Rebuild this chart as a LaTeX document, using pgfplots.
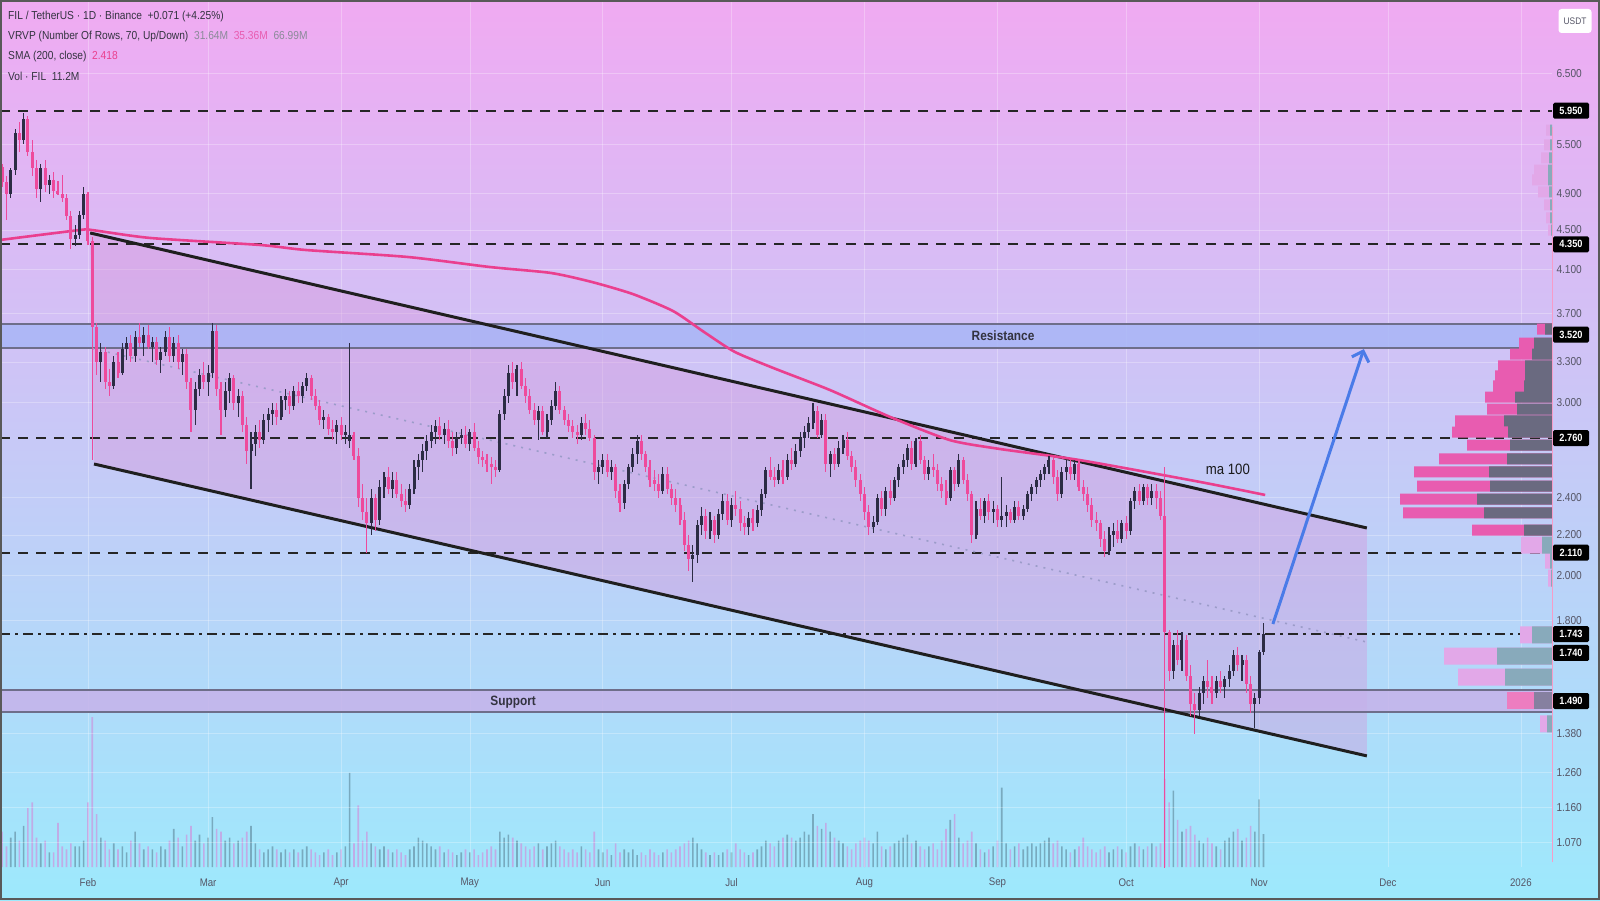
\documentclass[border=0pt]{standalone}
\usepackage{pgfplots}
\pgfplotsset{compat=1.18}
\usepackage{pgfplotstable}
\usepackage{fontspec}
\setmainfont{Liberation Sans}[FakeStretch=0.88]
\usetikzlibrary{arrows.meta}
\definecolor{bgtop}{HTML}{F0AAF2}
\definecolor{bgmid}{HTML}{CBC6F6}
\definecolor{bgbot}{HTML}{9DE9FC}
\definecolor{cdown}{HTML}{EE4A9C}
\definecolor{cup}{HTML}{2C2C44}
\definecolor{smac}{HTML}{EA3F8E}
\definecolor{volup}{HTML}{6E9CB0}
\definecolor{voldn}{HTML}{C4A6E4}
\definecolor{lbl}{HTML}{555566}
\definecolor{hdr}{HTML}{333340}
\definecolor{hgray}{HTML}{8A8A99}
\definecolor{prpink}{HTML}{E85CB0}
\definecolor{prgray}{HTML}{6A6A80}
\definecolor{prlpink}{HTML}{E2A8E8}
\definecolor{prlteal}{HTML}{88AABB}
\definecolor{resfill}{HTML}{A8B6F6}
\definecolor{supfill}{HTML}{C6B2EA}
\definecolor{bandline}{HTML}{6E6E8A}
\definecolor{chfill}{HTML}{D890D8}
\definecolor{arrowc}{HTML}{4A7BE8}

\pgfplotstableread{
d o h l c v
11 5.21 5.25 4.98 5.03 12
12 5.03 5.10 4.61 4.90 7
13 4.90 5.20 4.85 5.18 10
14 5.18 5.70 5.12 5.65 12
15 5.65 5.80 5.40 5.55 9
16 5.55 5.92 5.50 5.83 14
17 5.83 5.88 5.35 5.40 20
18 5.40 5.55 5.10 5.20 22
19 5.20 5.30 4.85 4.95 10
20 4.95 5.25 4.80 5.20 8
21 5.20 5.30 4.92 5.00 9
22 5.00 5.12 4.90 5.06 5
23 5.06 5.15 4.85 4.93 5
24 4.93 5.05 4.88 4.90 15
25 4.90 5.12 4.80 4.85 7
26 4.85 4.90 4.60 4.65 6
27 4.65 4.70 4.30 4.40 8
28 4.40 4.55 4.33 4.45 7
29 4.45 4.70 4.40 4.66 7
30 4.66 4.97 4.62 4.90 9
31 4.90 4.92 4.34 4.38 22
32 4.38 4.42 2.62 3.58 51
33 3.58 3.62 3.20 3.30 18
34 3.30 3.45 3.15 3.38 10
35 3.38 3.42 3.10 3.15 9
36 3.15 3.25 3.05 3.12 6
37 3.12 3.35 3.10 3.30 8
38 3.30 3.38 3.18 3.22 6
39 3.22 3.45 3.20 3.40 7
40 3.40 3.50 3.32 3.45 5
41 3.45 3.52 3.30 3.35 9
42 3.35 3.55 3.30 3.50 12
43 3.50 3.62 3.42 3.45 8
44 3.45 3.58 3.35 3.52 6
45 3.52 3.60 3.40 3.42 7
46 3.42 3.50 3.30 3.46 6
47 3.46 3.50 3.28 3.32 5
48 3.32 3.42 3.22 3.38 7
49 3.38 3.55 3.35 3.50 6
50 3.50 3.58 3.30 3.35 9
51 3.35 3.50 3.30 3.45 13
52 3.45 3.52 3.25 3.30 10
53 3.30 3.40 3.20 3.36 7
54 3.36 3.40 3.10 3.15 11
55 3.15 3.18 2.80 2.95 14
56 2.95 3.15 2.85 3.10 9
57 3.10 3.25 3.05 3.20 11
58 3.20 3.30 3.10 3.15 8
59 3.15 3.28 3.05 3.22 10
60 3.22 3.62 3.18 3.55 17
61 3.55 3.60 3.05 3.10 13
62 3.10 3.15 2.78 2.95 12
63 2.95 3.15 2.90 3.08 9
64 3.08 3.22 3.00 3.18 10
65 3.18 3.20 2.95 3.00 8
66 3.00 3.10 2.90 3.05 9
67 3.05 3.08 2.80 2.85 10
68 2.85 2.90 2.60 2.68 12
69 2.68 2.80 2.45 2.72 14
70 2.72 2.85 2.65 2.80 8
71 2.80 2.88 2.70 2.75 6
72 2.75 2.92 2.72 2.88 5
73 2.88 2.96 2.80 2.92 6
74 2.92 3.00 2.85 2.95 7
75 2.95 3.00 2.85 2.90 6
76 2.90 3.05 2.88 3.02 5
77 3.02 3.10 2.95 3.05 6
78 3.05 3.08 2.92 2.98 5
79 2.98 3.12 2.95 3.08 6
80 3.08 3.15 3.00 3.05 5
81 3.05 3.15 3.00 3.12 6
82 3.12 3.22 3.08 3.18 7
83 3.18 3.20 3.02 3.05 6
84 3.05 3.10 2.95 2.98 5
85 2.98 3.02 2.85 2.88 4
86 2.88 2.95 2.82 2.90 5
87 2.90 2.92 2.78 2.82 6
88 2.82 2.88 2.75 2.80 4
89 2.80 2.88 2.72 2.85 5
90 2.85 2.90 2.75 2.78 6
91 2.78 2.85 2.72 2.80 7
92 2.74 3.45 2.70 2.78 32
93 2.78 2.80 2.62 2.65 8
94 2.65 2.70 2.35 2.40 21
95 2.40 2.48 2.28 2.32 9
96 2.32 2.40 2.11 2.26 12
97 2.26 2.45 2.20 2.40 8
98 2.40 2.42 2.22 2.28 7
99 2.28 2.50 2.25 2.46 6
100 2.46 2.55 2.40 2.52 7
101 2.52 2.58 2.42 2.45 6
102 2.45 2.55 2.40 2.50 5
103 2.50 2.55 2.40 2.42 6
104 2.42 2.48 2.35 2.38 5
105 2.38 2.45 2.32 2.36 4
106 2.36 2.48 2.34 2.45 6
107 2.45 2.62 2.42 2.58 7
108 2.58 2.66 2.50 2.62 10
109 2.62 2.72 2.55 2.68 9
110 2.68 2.78 2.62 2.74 8
111 2.74 2.85 2.70 2.80 7
112 2.80 2.88 2.72 2.84 6
113 2.84 2.90 2.75 2.78 7
114 2.78 2.86 2.72 2.82 5
115 2.82 2.88 2.70 2.74 6
116 2.74 2.80 2.65 2.70 5
117 2.70 2.80 2.66 2.76 4
118 2.76 2.82 2.72 2.78 5
119 2.78 2.84 2.70 2.72 6
120 2.72 2.82 2.68 2.80 5
121 2.80 2.86 2.68 2.70 6
122 2.70 2.74 2.60 2.64 4
123 2.64 2.68 2.58 2.62 5
124 2.62 2.66 2.55 2.60 6
125 2.60 2.64 2.48 2.58 7
126 2.58 2.62 2.52 2.56 6
127 2.56 2.95 2.55 2.92 12
128 2.92 3.10 2.88 3.05 10
129 3.05 3.28 3.00 3.22 11
130 3.22 3.30 3.10 3.15 10
131 3.15 3.28 3.05 3.25 9
132 3.25 3.30 3.10 3.12 8
133 3.12 3.18 3.00 3.05 7
134 3.05 3.10 2.92 2.95 6
135 2.95 3.00 2.85 2.88 7
136 2.88 2.98 2.75 2.94 8
137 2.94 2.98 2.78 2.80 6
138 2.80 2.92 2.76 2.88 7
139 2.88 3.02 2.85 2.98 8
140 2.98 3.15 2.95 3.08 9
141 3.08 3.12 2.92 2.95 7
142 2.95 2.98 2.85 2.88 6
143 2.88 2.92 2.80 2.84 5
144 2.84 2.88 2.76 2.80 6
145 2.80 2.85 2.72 2.78 5
146 2.78 2.90 2.75 2.86 7
147 2.86 2.92 2.78 2.82 6
148 2.82 2.88 2.74 2.76 5
149 2.76 2.78 2.50 2.55 12
150 2.55 2.62 2.48 2.58 6
151 2.58 2.66 2.54 2.62 5
152 2.62 2.66 2.52 2.55 6
153 2.55 2.62 2.50 2.58 4
154 2.58 2.60 2.40 2.44 8
155 2.44 2.48 2.32 2.37 5
156 2.37 2.50 2.34 2.48 6
157 2.48 2.60 2.45 2.58 5
158 2.58 2.70 2.55 2.66 6
159 2.66 2.78 2.60 2.74 4
160 2.74 2.78 2.62 2.66 5
161 2.66 2.68 2.55 2.58 4
162 2.58 2.62 2.46 2.50 6
163 2.50 2.56 2.44 2.48 5
164 2.48 2.54 2.40 2.44 4
165 2.44 2.58 2.42 2.54 5
166 2.54 2.58 2.42 2.45 6
167 2.45 2.48 2.36 2.40 5
168 2.40 2.45 2.32 2.36 6
169 2.36 2.40 2.25 2.28 7
170 2.28 2.32 2.12 2.15 8
171 2.15 2.20 2.02 2.08 9
172 2.08 2.15 1.97 2.10 10
173 2.10 2.28 2.06 2.25 8
174 2.25 2.35 2.20 2.30 6
175 2.30 2.34 2.18 2.22 5
176 2.22 2.32 2.18 2.28 4
177 2.28 2.30 2.16 2.20 5
178 2.20 2.34 2.18 2.31 4
179 2.31 2.42 2.28 2.38 5
180 2.38 2.42 2.25 2.28 6
181 2.28 2.40 2.24 2.36 5
182 2.36 2.44 2.30 2.34 8
183 2.34 2.38 2.22 2.26 6
184 2.26 2.30 2.20 2.24 5
185 2.24 2.32 2.20 2.29 4
186 2.29 2.34 2.22 2.26 5
187 2.26 2.36 2.24 2.33 6
188 2.33 2.45 2.30 2.42 7
189 2.42 2.58 2.40 2.56 9
190 2.56 2.64 2.50 2.52 8
191 2.52 2.58 2.46 2.50 7
192 2.50 2.60 2.48 2.56 9
193 2.56 2.62 2.48 2.52 10
194 2.52 2.66 2.50 2.62 11
195 2.62 2.70 2.56 2.60 10
196 2.60 2.72 2.58 2.68 9
197 2.68 2.80 2.64 2.76 10
198 2.76 2.84 2.70 2.80 12
199 2.80 2.90 2.76 2.86 11
200 2.86 3.00 2.82 2.94 18
201 2.94 2.98 2.76 2.78 14
202 2.78 2.92 2.76 2.88 13
203 2.88 2.92 2.55 2.60 15
204 2.60 2.68 2.52 2.66 12
205 2.66 2.70 2.56 2.60 10
206 2.60 2.74 2.58 2.70 9
207 2.70 2.78 2.66 2.75 8
208 2.75 2.80 2.62 2.65 7
209 2.65 2.68 2.55 2.58 6
210 2.58 2.62 2.46 2.50 8
211 2.50 2.54 2.38 2.42 9
212 2.42 2.46 2.28 2.32 10
213 2.32 2.36 2.20 2.24 9
214 2.24 2.30 2.21 2.27 8
215 2.27 2.42 2.25 2.40 12
216 2.40 2.44 2.30 2.34 7
217 2.34 2.46 2.30 2.44 6
218 2.44 2.50 2.36 2.40 7
219 2.40 2.52 2.38 2.50 8
220 2.50 2.60 2.46 2.58 9
221 2.58 2.66 2.54 2.62 10
222 2.62 2.72 2.58 2.70 11
223 2.70 2.74 2.56 2.60 8
224 2.60 2.76 2.58 2.74 9
225 2.74 2.78 2.60 2.62 7
226 2.62 2.65 2.50 2.54 6
227 2.54 2.62 2.50 2.58 7
228 2.58 2.66 2.52 2.56 8
229 2.56 2.60 2.44 2.48 6
230 2.48 2.52 2.40 2.44 9
231 2.44 2.50 2.36 2.40 13
232 2.40 2.58 2.38 2.56 16
233 2.56 2.58 2.44 2.48 18
234 2.48 2.66 2.46 2.62 10
235 2.62 2.64 2.48 2.50 8
236 2.50 2.54 2.38 2.42 9
237 2.42 2.44 2.16 2.20 12
238 2.20 2.38 2.18 2.34 8
239 2.34 2.40 2.28 2.30 6
240 2.30 2.40 2.26 2.38 5
241 2.38 2.42 2.28 2.32 6
242 2.32 2.38 2.26 2.34 7
243 2.34 2.36 2.24 2.28 9
244 2.28 2.52 2.24 2.30 27
245 2.30 2.36 2.24 2.32 8
246 2.32 2.34 2.26 2.28 6
247 2.28 2.38 2.26 2.35 7
248 2.35 2.38 2.28 2.30 8
249 2.30 2.36 2.28 2.34 6
250 2.34 2.44 2.32 2.42 7
251 2.42 2.48 2.38 2.46 8
252 2.46 2.52 2.42 2.50 7
253 2.50 2.56 2.46 2.54 8
254 2.54 2.60 2.50 2.58 9
255 2.58 2.65 2.54 2.62 10
256 2.62 2.64 2.48 2.52 8
257 2.52 2.56 2.38 2.42 9
258 2.42 2.58 2.40 2.55 7
259 2.55 2.62 2.50 2.58 6
260 2.58 2.62 2.50 2.54 5
261 2.54 2.62 2.50 2.60 6
262 2.60 2.62 2.44 2.46 7
263 2.46 2.50 2.38 2.42 10
264 2.42 2.46 2.32 2.36 7
265 2.36 2.40 2.24 2.28 6
266 2.28 2.32 2.22 2.26 5
267 2.26 2.28 2.14 2.18 6
268 2.18 2.22 2.09 2.12 7
269 2.12 2.24 2.10 2.20 5
270 2.20 2.26 2.14 2.22 6
271 2.22 2.28 2.16 2.18 7
272 2.18 2.28 2.16 2.26 6
273 2.26 2.30 2.18 2.22 5
274 2.22 2.40 2.20 2.38 7
275 2.38 2.46 2.34 2.44 8
276 2.44 2.48 2.36 2.38 7
277 2.38 2.48 2.36 2.46 6
278 2.46 2.48 2.36 2.40 7
279 2.40 2.48 2.36 2.44 8
280 2.44 2.48 2.34 2.40 7
281 2.40 2.44 2.28 2.30 8
282 2.30 2.58 0.90 1.75 30
283 1.75 1.76 1.56 1.60 22
284 1.60 1.72 1.57 1.70 26
285 1.70 1.76 1.62 1.64 16
286 1.64 1.75 1.60 1.72 12
287 1.72 1.74 1.56 1.58 13
288 1.58 1.62 1.44 1.48 14
289 1.48 1.52 1.38 1.46 11
290 1.46 1.54 1.44 1.52 9
291 1.52 1.58 1.48 1.56 8
292 1.56 1.64 1.50 1.54 10
293 1.54 1.58 1.48 1.52 8
294 1.52 1.58 1.50 1.56 7
295 1.56 1.60 1.52 1.54 6
296 1.54 1.58 1.50 1.57 9
297 1.57 1.62 1.54 1.60 10
298 1.60 1.68 1.58 1.66 12
299 1.66 1.69 1.60 1.62 13
300 1.62 1.66 1.56 1.64 9
301 1.64 1.66 1.52 1.55 10
302 1.55 1.58 1.45 1.48 14
303 1.48 1.52 1.40 1.50 12
304 1.50 1.68 1.48 1.67 23
305 1.672 1.79 1.66 1.743 11.2
}\candles

\pgfplotstableread{
d p
10.5 4.394
29.1 4.498
31.9 4.498
45.5 4.415
71.1 4.343
81.8 4.292
105.6 4.222
124.7 4.124
138.9 4.067
148.5 3.982
158.0 3.871
167.4 3.719
174.6 3.541
181.8 3.379
191.4 3.246
204.0 3.090
218.0 2.901
231.9 2.748
243.6 2.691
262.2 2.622
290.2 2.491
305.4 2.416
}\sma

% volume profile: price level, up volume (grey), down volume (pink)
\pgfplotstableread{
p g k
5.687 2 4
5.491 2 6
5.326 3 8
5.178 4 14
5.058 4 16
4.918 3 11
4.770 2 6
4.627 2 4
4.498 1 3
}\profTop
\pgfplotstableread{
p g k
3.566 7 8
3.451 18 15
3.363 20 22
3.270 27 27
3.194 27 30
3.120 28 31
3.040 37 30
2.956 35 30
2.874 48 49
2.800 44 56
2.716 42 43
2.629 45 68
2.550 63 75
2.467 62 73
2.393 75 77
2.316 68 81
2.225 28 52
}\profMain
\pgfplotstableread{
p g k
2.148 10 21
2.074 2 5
1.988 1 3
1.740 20 12
1.656 55 53
1.576 47 47
1.412 5 7
}\profLow
\pgfplotstableread{
p g k
1.493 18 27
}\profSup

\pgfplotsset{
  base/.style={at={(0pt,33pt)}, anchor=south west, scale only axis,
    width=1552pt, height=867pt, clip mode=individual},
  /pgfplots/table/lny/.style={/pgfplots/table/y expr={ln(\thisrow{#1})}},
  candle/.style 2 args={draw=none, mark=none, restrict x to domain=0:400,
    error bars/.cd, y dir=both, y explicit, error mark=none,
    error bar style={draw=#1, line width=#2, solid}},
}
\tikzset{pbox/.style={fill=black, text=white, font=\bfseries\fontsize{10.5}{11}\selectfont, rounded corners=1.5pt,
        minimum width=36pt, minimum height=16pt, inner sep=1pt}}

\begin{document}
\begin{tikzpicture}
\useasboundingbox (0,0) rectangle (1600pt,900pt);
\shade[top color=bgtop, middle color=bgmid, bottom color=bgbot] (0,0) rectangle (1600pt,900pt);

% volume pane
\begin{axis}[base, hide axis, xmin=10.49, xmax=372.26, ymin=0, ymax=295]
\addplot[ybar, bar width=1.6pt, bar shift=0pt, fill=volup, draw=none, fill opacity=0.8,
  restrict x to domain=0:400]
  table[x expr={ifthenelse(\thisrow{c}<\thisrow{o},-100,\thisrow{d})}, y=v] {\candles};
\addplot[ybar, bar width=1.6pt, bar shift=0pt, fill=voldn, draw=none, fill opacity=0.9,
  restrict x to domain=0:400]
  table[x expr={ifthenelse(\thisrow{c}<\thisrow{o},\thisrow{d},-100)}, y=v] {\candles};
\end{axis}

% price pane
\begin{axis}[base, xmin=10.49, xmax=372.26, ymin=0.0094, ymax=2.0432,
  axis line style={draw=none}, major tick length=0pt,
  xtick={31,59,90,120,151,181,212,243,273,304,334,365},
  xticklabels={Feb,Mar,Apr,May,Jun,Jul,Aug,Sep,Oct,Nov,Dec,2026},
  xticklabel style={font=\fontsize{11}{12}\selectfont, text=lbl, anchor=center, yshift=-16pt},
  ytick={1.871802,1.704748,1.589235,1.504077,1.410987,1.308333,1.193922,1.098612,0.875469,0.788457,0.693147,0.587787,0.322083,0.231112,0.148420,0.067659},
  yticklabels={6.500,5.500,4.900,4.500,4.100,3.700,3.300,3.000,2.400,2.200,2.000,1.800,1.380,1.260,1.160,1.070},
  yticklabel pos=right,
  yticklabel style={font=\fontsize{11.5}{12}\selectfont, text=lbl, anchor=west, xshift=1pt},
  grid=major, major grid style={white, opacity=0.28, line width=0.6pt},
]
% channel fill
\addplot[fill=chfill, fill opacity=0.36, draw=none] table[row sep=\\, x=d, lny=p]
  {d p\\ 31.5 4.467\\ 329.1 2.236\\ 329.1 1.310\\ 32.4 2.598\\} -- cycle;
% resistance / support bands
\addplot[fill=resfill, fill opacity=0.85, draw=none] table[row sep=\\, x=d, lny=p]
  {d p\\ 10.49 3.41\\ 372.26 3.41\\ 372.26 3.61\\ 10.49 3.61\\} -- cycle;
\addplot[fill=supfill, fill opacity=0.85, draw=none] table[row sep=\\, x=d, lny=p]
  {d p\\ 10.49 1.452\\ 372.26 1.452\\ 372.26 1.529\\ 10.49 1.529\\} -- cycle;
\addplot[bandline, line width=2pt] table[row sep=\\, x=d, lny=p] {d p\\ 10.49 3.41\\ 372.26 3.41\\};
\addplot[bandline, line width=2pt] table[row sep=\\, x=d, lny=p] {d p\\ 10.49 3.61\\ 372.26 3.61\\};
\addplot[bandline, line width=2pt] table[row sep=\\, x=d, lny=p] {d p\\ 10.49 1.452\\ 372.26 1.452\\};
\addplot[bandline, line width=2pt] table[row sep=\\, x=d, lny=p] {d p\\ 10.49 1.529\\ 372.26 1.529\\};
% horizontal levels
\addplot[black!85, line width=2.4pt, dash pattern=on 10pt off 8pt] table[row sep=\\, x=d, lny=p] {d p\\ 10.49 5.95\\ 372.26 5.95\\};
\addplot[black!85, line width=2.4pt, dash pattern=on 10pt off 8pt] table[row sep=\\, x=d, lny=p] {d p\\ 10.49 4.35\\ 372.26 4.35\\};
\addplot[black!85, line width=2.4pt, dash pattern=on 10pt off 8pt] table[row sep=\\, x=d, lny=p] {d p\\ 10.49 2.76\\ 372.26 2.76\\};
\addplot[black!85, line width=2.4pt, dash pattern=on 10pt off 8pt] table[row sep=\\, x=d, lny=p] {d p\\ 10.49 2.11\\ 372.26 2.11\\};
\addplot[black!85, line width=2.2pt, dash pattern=on 10pt off 5pt on 3pt off 5pt] table[row sep=\\, x=d, lny=p]
  {d p\\ 10.49 1.743\\ 372.26 1.743\\};
% channel midline and borders
\addplot[gray!70!blue!60, line width=1.6pt, dash pattern=on 2pt off 6pt] table[row sep=\\, x=d, lny=p]
  {d p\\ 32.0 3.406\\ 329.1 1.711\\};
\addplot[black!88, line width=3pt] table[row sep=\\, x=d, lny=p] {d p\\ 31.5 4.467\\ 329.1 2.236\\};
\addplot[black!88, line width=3pt] table[row sep=\\, x=d, lny=p] {d p\\ 32.4 2.598\\ 329.1 1.310\\};
% SMA 200
\addplot[smac, line width=2.6pt, smooth, tension=0.4] table[x=d, lny=p] {\sma};
% candles: wicks
\addplot[candle={cdown}{1.1pt}]
  table[x expr={ifthenelse(\thisrow{c}<\thisrow{o},\thisrow{d},-100)},
        y expr={(ln(\thisrow{h})+ln(\thisrow{l}))/2},
        y error expr={(ln(\thisrow{h})-ln(\thisrow{l}))/2}] {\candles};
\addplot[candle={cup}{1.1pt}]
  table[x expr={ifthenelse(\thisrow{c}<\thisrow{o},-100,\thisrow{d})},
        y expr={(ln(\thisrow{h})+ln(\thisrow{l}))/2},
        y error expr={(ln(\thisrow{h})-ln(\thisrow{l}))/2}] {\candles};
% candles: bodies
\addplot[candle={cdown}{3pt}]
  table[x expr={ifthenelse(\thisrow{c}<\thisrow{o},\thisrow{d},-100)},
        y expr={(ln(\thisrow{o})+ln(\thisrow{c}))/2},
        y error expr={max(abs(ln(\thisrow{o})-ln(\thisrow{c}))/2,0.002)}] {\candles};
\addplot[candle={cup}{3pt}]
  table[x expr={ifthenelse(\thisrow{c}<\thisrow{o},-100,\thisrow{d})},
        y expr={(ln(\thisrow{o})+ln(\thisrow{c}))/2},
        y error expr={max(abs(ln(\thisrow{o})-ln(\thisrow{c}))/2,0.002)}] {\candles};
% projection arrow
\addplot[arrowc, line width=3pt, -{Straight Barb[length=9pt, width=18pt, line width=3pt]}]
  table[row sep=\\, x=d, lny=p] {d p\\ 307.2 1.785\\ 328.4 3.402\\};
% annotations
\node[font=\bfseries\fontsize{13.5}{14}\selectfont, text=hdr] at (axis cs:244.3,1.255) {Resistance};
\node[font=\bfseries\fontsize{13.5}{14}\selectfont, text=hdr] at (axis cs:130.1,0.3964) {Support};
\node[font=\fontsize{15}{16}\selectfont, text=black!90] at (axis cs:296.7,0.943) {ma 100};
\end{axis}

% volume profile
\begin{axis}[base, hide axis, x dir=reverse, xmin=0, xmax=1552, ymin=0.0094, ymax=2.0432]
\addplot[xbar, bar shift=0pt, bar width=11pt, fill=prlpink, draw=none] table[x expr=\thisrow{g}+\thisrow{k}, lny=p] {\profTop};
\addplot[xbar, bar shift=0pt, bar width=11pt, fill=prlteal, draw=none] table[x=g, lny=p] {\profTop};
\addplot[xbar, bar shift=0pt, bar width=11pt, fill=prpink, draw=none] table[x expr=\thisrow{g}+\thisrow{k}, lny=p] {\profMain};
\addplot[xbar, bar shift=0pt, bar width=11pt, fill=prgray, draw=none] table[x=g, lny=p] {\profMain};
\addplot[xbar, bar shift=0pt, bar width=17pt, fill=prlpink, draw=none] table[x expr=\thisrow{g}+\thisrow{k}, lny=p] {\profLow};
\addplot[xbar, bar shift=0pt, bar width=17pt, fill=prlteal, draw=none] table[x=g, lny=p] {\profLow};
\addplot[xbar, bar shift=0pt, bar width=17pt, fill=prpink!80, draw=none] table[x expr=\thisrow{g}+\thisrow{k}, lny=p] {\profSup};
\addplot[xbar, bar shift=0pt, bar width=17pt, fill=prgray!70!supfill, draw=none] table[x=g, lny=p] {\profSup};
\draw[cdown!55, line width=0.8pt] (axis cs:0,0.02) -- (axis cs:0,1.745);
% price boxes
\node[pbox] at (axis cs:-19,1.783391) {5.950};
\node[pbox] at (axis cs:-19,1.470176) {4.350};
\node[pbox] at (axis cs:-19,1.258461) {3.520};
\node[pbox] at (axis cs:-19,1.015231) {2.760};
\node[pbox] at (axis cs:-19,0.746688) {2.110};
\node[pbox] at (axis cs:-19,0.555608) {1.743};
\node[pbox] at (axis cs:-19,0.511400) {1.740};
\node[pbox] at (axis cs:-19,0.398776) {1.490};
\end{axis}

% header
\begin{scope}[every node/.style={anchor=west, font=\fontsize{11.6}{13}\selectfont, text=hdr, inner sep=0pt}]
\node at (8pt,883pt) {FIL / TetherUS · 1D · Binance\ \ +0.071 (+4.25\%)};
\node at (8pt,863pt) {VRVP (Number Of Rows, 70, Up/Down)\ \ \textcolor{hgray}{31.64M}\ \ \textcolor{prpink}{35.36M}\ \ \textcolor{hgray}{66.99M}};
\node at (8pt,843pt) {SMA (200, close)\ \ \textcolor{smac}{2.418}};
\node at (8pt,824pt) {Vol · FIL\ \ 11.2M};
\end{scope}
\node[fill=white, rounded corners=3pt, minimum width=33pt, minimum height=24pt, inner sep=1pt,
      font=\fontsize{9.5}{10}\selectfont, text=lbl] at (1575pt,879pt) {USDT};
\draw[line width=2pt, black!65] (1pt,1pt) rectangle (1599pt,899pt);
\end{tikzpicture}
\end{document}
